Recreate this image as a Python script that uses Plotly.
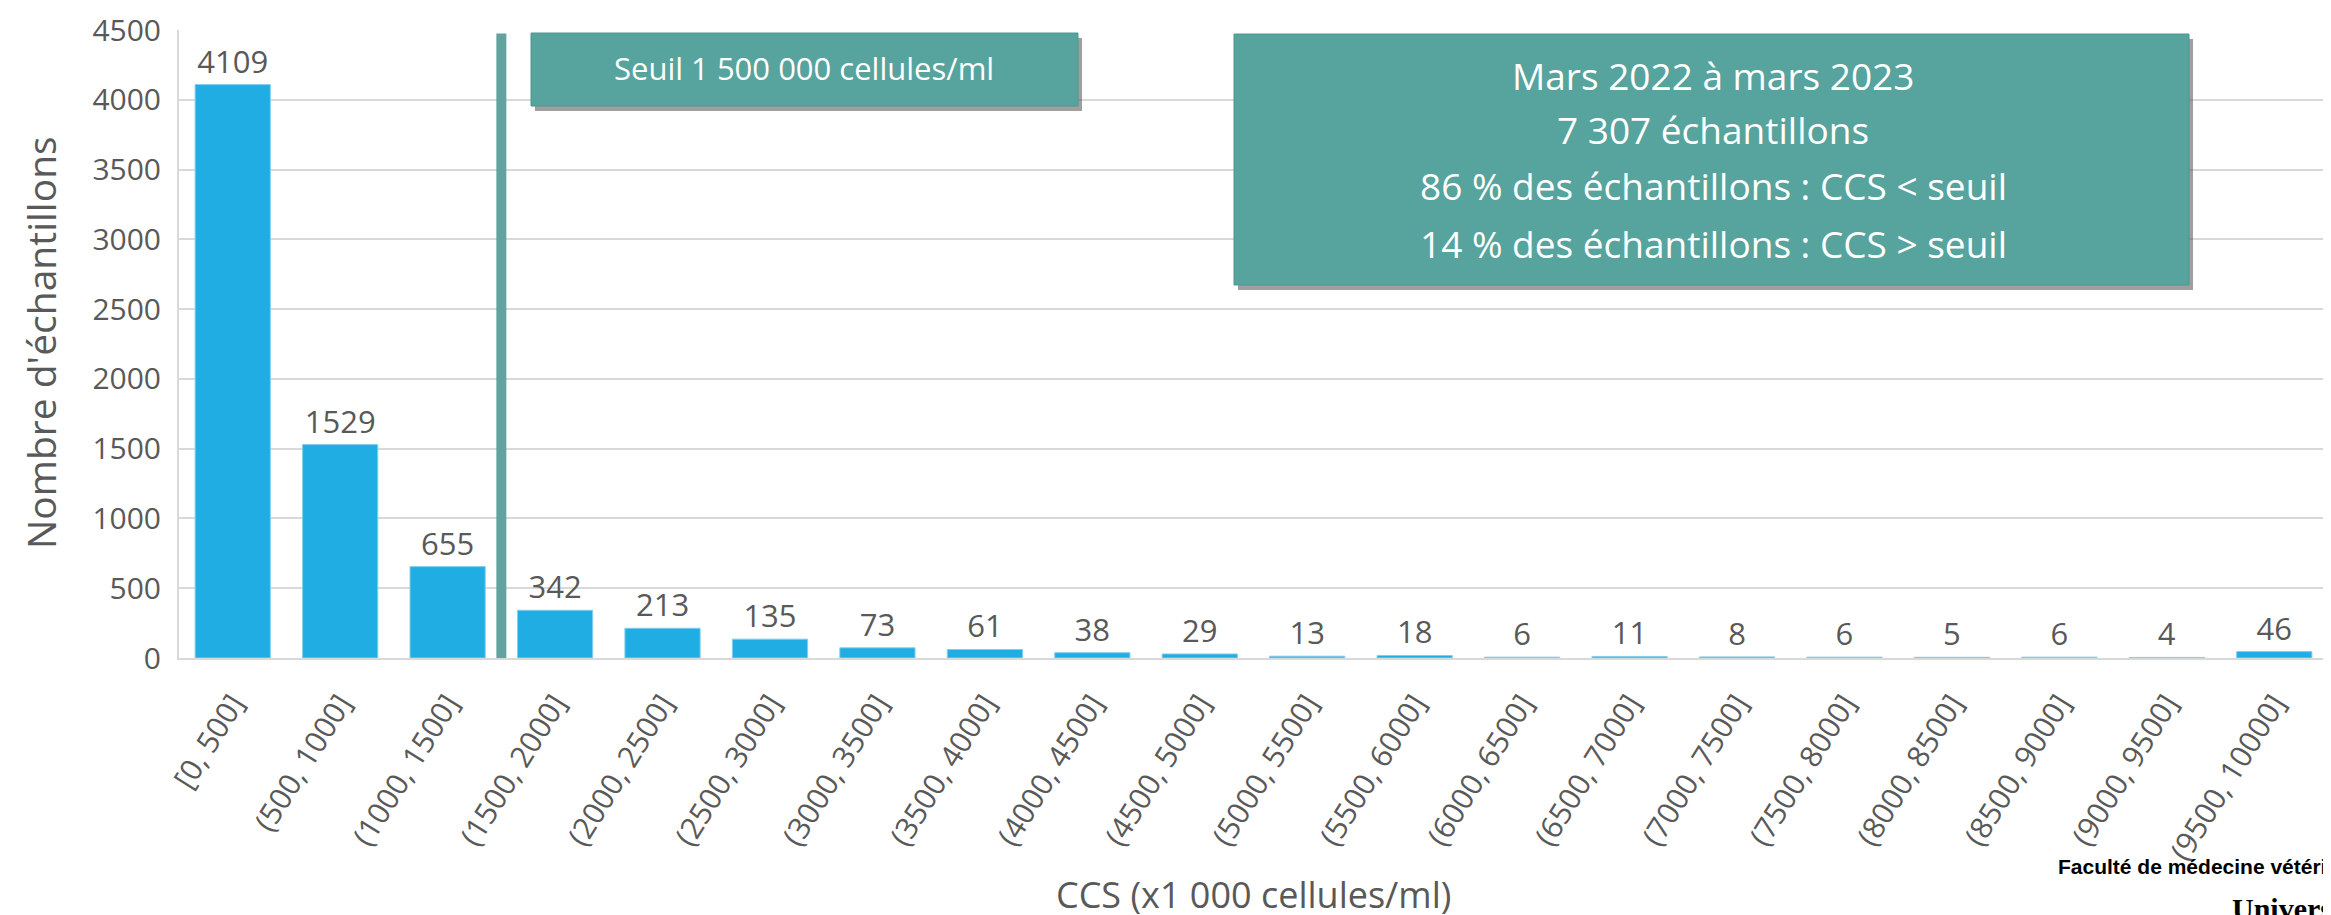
import plotly.graph_objects as go

categories = ["[0, 500]", "(500, 1000]", "(1000, 1500]", "(1500, 2000]", "(2000, 2500]",
              "(2500, 3000]", "(3000, 3500]", "(3500, 4000]", "(4000, 4500]", "(4500, 5000]",
              "(5000, 5500]", "(5500, 6000]", "(6000, 6500]", "(6500, 7000]", "(7000, 7500]",
              "(7500, 8000]", "(8000, 8500]", "(8500, 9000]", "(9000, 9500]", "(9500, 10000]"]
counts = [4109, 1529, 655, 342, 213, 135, 73, 61, 38, 29, 13, 18, 6, 11, 8, 6, 5, 6, 4, 46]
y_ticks = [0, 500, 1000, 1500, 2000, 2500, 3000, 3500, 4000, 4500]
threshold_pos = 2.5  # between (1000,1500] and (1500,2000]

seuil_text = "Seuil 1 500 000 cellules/ml"
info_lines = ["Mars 2022 à mars 2023", "7 307 échantillons",
              "86 % des échantillons : CCS &lt; seuil", "14 % des échantillons : CCS &gt; seuil"]
x_title = "CCS (x1 000 cellules/ml)"
y_title = "Nombre d'échantillons"

FONT = "Open Sans"
GRAY = "#595959"
TEAL = "#57A39D"

# plot area in pixels: x 171..2320, y 22..650
L, R, T, B = 171, 2320, 22, 650
def px(x):
    return (x - L) / (R - L)
def py(y):
    return (B - y) / (B - T)

fig = go.Figure()
fig.add_trace(go.Bar(
    x=categories, y=counts,
    marker=dict(color="#1FADE4", line=dict(color="#7FD0EE", width=1)),
    text=[str(v) for v in counts], textposition="outside", cliponaxis=False,
    textfont=dict(family=FONT, size=31, color=GRAY),
))

# threshold vertical line
fig.add_shape(type="line", xref="x", yref="y", x0=threshold_pos, x1=threshold_pos,
              y0=-15, y1=4475, line=dict(color="#62A39F", width=10), layer="above")

def box(x0, x1, y0, y1):
    # shadow
    fig.add_shape(type="rect", xref="paper", yref="paper", x0=px(x0 + 4), x1=px(x1 + 4),
                  y0=py(y1 + 5), y1=py(y0 + 5), fillcolor="rgba(80,80,80,0.55)",
                  line=dict(width=0), layer="above")
    fig.add_shape(type="rect", xref="paper", yref="paper", x0=px(x0), x1=px(x1),
                  y0=py(y1), y1=py(y0),
                  fillcolor=TEAL, line=dict(color="#4E968F", width=1), layer="above")

box(523, 1070, 25, 98)
fig.add_annotation(xref="paper", yref="paper", x=px(796), y=py(60),
                   xanchor="center", yanchor="middle",
                   text=seuil_text, showarrow=False,
                   font=dict(family=FONT, size=31, color="white"))

box(1226, 2181, 26, 277)
line_y = [67, 122, 178, 235]
for t, yy in zip(info_lines, line_y):
    fig.add_annotation(xref="paper", yref="paper", x=px(1705), y=py(yy),
                       xanchor="center", yanchor="middle",
                       text=t, showarrow=False,
                       font=dict(family=FONT, size=37, color="white"))

# axis titles
fig.add_annotation(xref="paper", yref="paper", x=0.5, y=py(886),
                   xanchor="center", yanchor="middle", text=x_title, showarrow=False,
                   font=dict(family=FONT, size=36, color=GRAY))
fig.add_annotation(xref="paper", yref="paper", x=px(33), y=py(335),
                   xanchor="center", yanchor="middle", textangle=-90, text=y_title,
                   showarrow=False, font=dict(family=FONT, size=39, color=GRAY))

# footer texts (cut off at right edge, as in the original slide)
fig.add_annotation(xref="paper", yref="paper", x=px(2048), y=py(858),
                   text="<b>Faculté de médecine vétérinaire</b>", showarrow=False,
                   xanchor="left", yanchor="middle",
                   font=dict(family="Liberation Sans", size=21, color="black"))
fig.add_annotation(xref="paper", yref="paper", x=px(2222), y=py(900),
                   text="<b>Université de Montréal</b>", showarrow=False,
                   xanchor="left", yanchor="middle",
                   font=dict(family="Liberation Serif", size=30, color="black"))

fig.update_layout(
    width=2331, height=915,
    margin=dict(l=L, r=2331 - R, t=T, b=915 - B),
    paper_bgcolor="white", plot_bgcolor="white",
    bargap=0.30, showlegend=False,
    font=dict(family=FONT, color=GRAY),
    xaxis=dict(
        type="category", tickangle=-58, tickfont=dict(family=FONT, size=30, color=GRAY),
        showgrid=False, showline=True, linecolor="#D9D9D9", linewidth=2, ticks="",
        ticklabelstandoff=14, automargin=False,
    ),
    yaxis=dict(
        range=[0, 4500], tickvals=y_ticks, tickfont=dict(family=FONT, size=30, color=GRAY),
        showgrid=True, gridcolor="#D9D9D9", gridwidth=2,
        showline=True, linecolor="#D9D9D9", linewidth=2, zeroline=False, ticks="",
        ticklabelstandoff=10, automargin=False,
    ),
)

fig.write_html("out.html")
